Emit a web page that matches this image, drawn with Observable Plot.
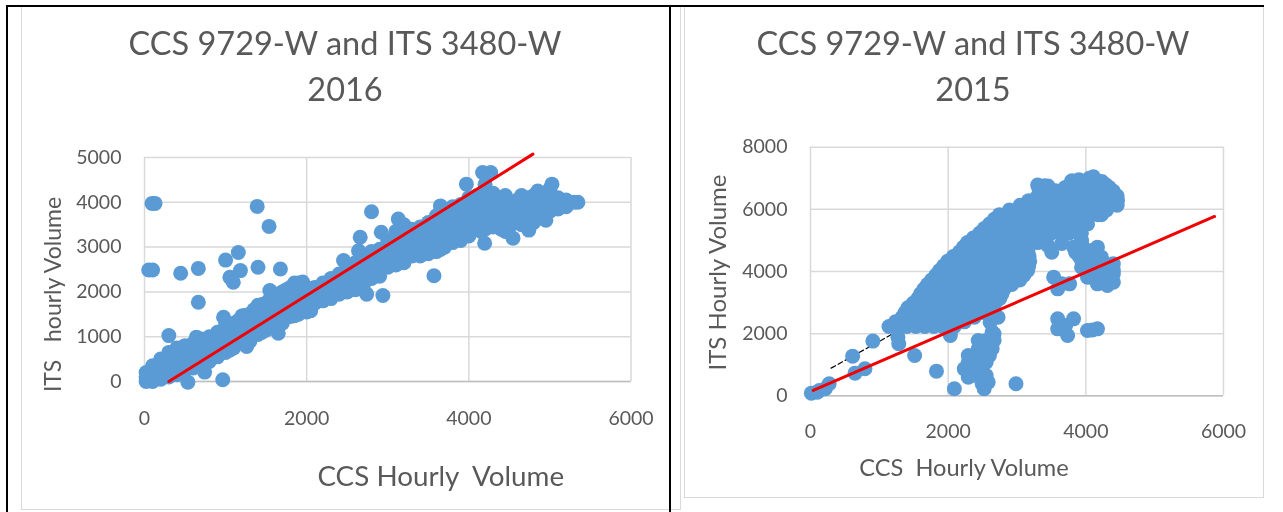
<!DOCTYPE html>
<html><head><meta charset="utf-8">
<script src="https://cdn.jsdelivr.net/npm/d3@7"></script>
<script src="https://cdn.jsdelivr.net/npm/@observablehq/plot@0.6"></script>
<style>
html,body{margin:0;background:#fff;}
#page{position:relative;width:1283px;height:512px;overflow:hidden;font-family:Lato,sans-serif;filter:blur(.45px);}
.box{position:absolute;box-sizing:border-box;}
.title{position:absolute;color:#595959;font-size:32.5px;line-height:46px;text-align:center;width:600px;white-space:pre;}
svg{position:absolute;top:0;}
</style></head><body>
<div id="page">
  <div class="box" style="left:21px;top:6px;width:660px;height:504px;border:1.5px solid #d9d9d9"></div>
  <div class="box" style="left:684px;top:6px;width:580px;height:492px;border:1.5px solid #d9d9d9"></div>
  <div class="box" style="left:6px;top:5px;width:1258px;height:2px;background:#000"></div>
  <div class="box" style="left:6px;top:5px;width:2px;height:507px;background:#000"></div>
  <div class="box" style="left:669px;top:5px;width:2px;height:507px;background:#000"></div>
  <div class="title" style="left:45px;top:20px">CCS 9729-W and ITS 3480-W
2016</div>
  <div class="title" style="left:673px;top:20px">CCS 9729-W and ITS 3480-W
2015</div>
</div>
<script>
// 2016 panel: for each CCS volume, the ITS volumes of the main band
const band2016 = [
 [20,[0,100,200]],[100,[0,100,250,350]],[200,[50,200,400,500]],[300,[100,300,500,650]],
 [400,[150,350,600,750]],[500,[250,450,650,800]],[600,[300,500,700,850]],[700,[350,550,750,950]],
 [800,[450,650,850,1000]],[900,[550,750,950,1100]],[1000,[650,850,1050,1250]],[1100,[750,950,1150,1300]],
 [1200,[900,1100,1300,1450]],[1300,[900,1100,1300,1500]],[1400,[1050,1250,1500,1700]],[1500,[1150,1350,1550,1750]],
 [1600,[1250,1450,1650,1900]],[1700,[1300,1500,1700,2000]],[1800,[1450,1650,1850,2100]],[1900,[1500,1700,1900,2200]],
 [2000,[1550,1750,1950,2100]],[2100,[1750,1900,2100]],[2200,[1800,1950,2100,2200]],[2300,[1850,2000,2150,2300]],
 [2400,[1950,2100,2250,2400]],[2500,[2000,2150,2350,2550]],[2600,[2050,2250,2450,2650]],[2700,[2150,2350,2550,2750]],
 [2800,[2300,2500,2700,2900]],[2900,[2350,2550,2750,2950]],[3000,[2550,2750,2950,3150]],[3100,[2600,2800,3000,3200,3350]],
 [3200,[2650,2850,3050,3250,3500]],[3300,[2800,3000,3200,3400]],[3400,[2800,3000,3250,3450]],[3500,[2850,3050,3300,3550]],
 [3600,[2900,3150,3400,3700]],[3700,[3000,3250,3500,3800]],[3800,[3100,3350,3600,3900]],[3900,[3150,3400,3700,3950]],
 [4000,[3250,3500,3800,4100]],[4100,[3400,3650,3900,4150]],[4200,[3400,3650,3900,4200,4400]],[4300,[3450,3700,3950,4200]],
 [4400,[3400,3650,3900,4100]],[4500,[3450,3700,3900]],[4600,[3550,3800,4050]],[4700,[3650,3900,4100]],
 [4800,[3550,3750,3950,4150]],[4900,[3650,3850,4100,4200]],[5000,[3800,4000,4200,4300]],[5100,[3850,4050,4100]],
 [5200,[3900,4050]],[5300,[4000]]
];
const edge2016 = [
 [1050,1280],[1150,1350],[1250,1480],[1350,1600],[1450,1720],[1550,1850],[1650,1950],[1750,2050],[1850,2200],[1950,2220],
 [1050,700],[1250,900],[1450,1100],[1650,1250],[1850,1470],[2050,1580],[3350,2850],[3650,2950],[4150,3350],[4450,3350],
 [4650,3500],[4950,3600],[4450,4150],[4650,4150],[4850,4250]
];
const outliers2016 = [
 [93,3975],[130,3975],[52,2490],[100,2490],[446,2415],[664,2525],[664,1770],[1000,2710],[1157,2880],[1183,2475],
 [1053,2325],[1095,2214],[1390,3908],[1536,3462],[1400,2550],[1676,2510],[535,-15],[965,40],[742,210],[1260,780],
 [300,1025],[640,990],[975,1435],[1210,1470],[1390,1660],[1546,2030],[1650,1077],[2455,2700],[2640,2920],[2740,1950],
 [2940,1920],[2660,3220],[2800,3790],[2920,3330],[3130,3625],[3570,2360],[3650,3920],[3970,4405],[4195,3085],
 [4170,4665],[4270,4665],[4545,3200],[4740,3380],[5025,4405],[5345,4000]
];
const trend2016 = [[300,0],[4790,5075]];

// 2015 panel: for each ITS volume, the CCS volumes of the main cloud
const cloud2015 = [
 [2230,[1140,1270,1400,1530,1660,1790,1920,2090]],
 [2530,[1330,1460,1590,1720,1850,1980,2110,2240,2380]],
 [2830,[1415,1545,1675,1805,1935,2065,2195,2325,2455,2610]],
 [3130,[1560,1690,1820,1950,2080,2210,2340,2470,2600,2750]],
 [3430,[1645,1775,1905,2035,2165,2295,2425,2555,2685,2810]],
 [3730,[1760,1890,2020,2150,2280,2410,2540,2670,2800,2930,3040]],
 [4030,[1875,2005,2135,2265,2395,2525,2655,2785,2915,3045,3155]],
 [4330,[1990,2120,2250,2380,2510,2640,2770,2900,3030,3185]],
 [4630,[2165,2295,2425,2555,2685,2815,2945,3075,3160]],
 [4930,[2280,2410,2540,2670,2800,2930,3060,3160,3300]],
 [5230,[2455,2585,2715,2845,2975,3105,3235,3365,3495,3625,3755,3885,3935]],
 [5530,[2600,2730,2860,2990,3120,3250,3380,3510,3640,3770,3900,4025]],
 [5830,[2745,2875,3005,3135,3265,3395,3525,3655,3785,3915,4045,4175,4225]],
 [6130,[3045,3175,3305,3435,3565,3695,3825,3955,4085,4215,4345,4455]],
 [6430,[3300,3430,3560,3690,3820,3950,4080,4210,4340,4455]],
 [6700,[3315,3445,3700,3830,3960,4090,4220,4340]],
 [6900,[3790,3920,4050,4180,4230]]
];
const scatter2015 = [
 [3505,4620],[3447,4840],[3533,3818],[3591,3442],[3764,3603],[3851,4622],[3938,4354],[4169,4783],[4053,4461],[4226,4461],
 [4400,4247],[4400,3925],[4082,3818],[4226,3710],[4313,3550],[3938,4890],[4082,4139],[4255,4139],[3591,2477],[3822,2477],
 [3591,2155],[3735,1940],[3707,2263],[4024,2102],[4169,2155],[4095,2120],[2725,2530],[2610,2370],[2639,2048],[2639,1512],
 [2437,1780],[2552,1780],[2292,1298],[2465,1298],[2234,868],[2350,990],[2494,922],[2292,600],[2552,493],[2523,225],
 [2985,386],[2090,225],[1830,794],[2032,1941],[1513,1298],[1282,1673],[1270,1887],[906,1760],[612,1276],[647,729],
 [791,869],[271,386],[214,225],[127,172],[98,118],[12,85],[2600,1300],[2480,1100],
 [2667,1995],[2667,1780],[2437,1512],[2292,1083],[2437,1083],[2552,1083],[2263,869],[2379,869],[2350,654],[2552,654],
 [2581,440],[2494,386],[2581,1290],
 [4082,4676],[4284,4247],[4284,3925],[4169,3603],[4024,3818],[3938,4139],[4400,3657],[3938,4997],[3822,4783],[4140,4000],
 [3649,3603],[3650,4900],[4400,4050],[3900,4500]
];
const edge2015 = [
 [1235,2380],[1375,2680],[1490,2980],[1600,3280],[1700,3580],[1820,3880],[1935,4180],[2075,4480],[2220,4780],[2365,5080],
 [2525,5380],[2670,5680],[2890,5980],[3170,6280],[2235,2380],[2495,2680],[2680,2980],[2780,3280],[2925,3580],[3100,3880],
 [3170,4180],[3175,4480],[3160,4780],[4460,6280],[4400,6580],[4285,6800],[4300,5980],[3380,6550],[3300,6780],[3400,6760],
 [3450,6750],[3800,6920],[3900,6950],[4050,7000],[4110,7050],[3560,6600],[3580,6500]
];
const trend2015 = [[40,172],[5870,5770]];
const dashed2015 = [[300,890],[1200,2000]];

const xTicks = [0,2000,4000,6000];
const yTicks2016 = [0,1000,2000,3000,4000,5000];
const yTicks2015 = [0,2000,4000,6000,8000];
const blue = "#5b9bd5", red = "#f00000", grid = "#d9d9d9", ink = "#595959";

const points2016 = band2016.flatMap(([x,ys]) => ys.map(y => [x,y])).concat(outliers2016, edge2016);
const points2015 = cloud2015.flatMap(([y,xs]) => xs.map(x => [x,y])).concat(scatter2015, edge2015);

function panel({width,margins,yMax,yTicks,points,trend,extra,xLabel,xDx,xDy,xSize,xPad,yLabel,yDx,yDy,ySize,left,r}){
  const svg = Plot.plot({
    width, height:512, ...margins,
    style:{background:"transparent",fontFamily:"Lato,sans-serif",color:ink,overflow:"visible"},
    x:{domain:[0,6000]}, y:{domain:[0,yMax]},
    marks:[
      Plot.gridX(xTicks,{stroke:grid,strokeOpacity:1,strokeWidth:1.5}),
      Plot.gridY(yTicks,{stroke:grid,strokeOpacity:1,strokeWidth:1.5}),
      Plot.ruleY([0],{stroke:"#bfbfbf",strokeWidth:1.5}),
      Plot.axisX(xTicks,{tickSize:0,tickPadding:xPad,label:null,fontSize:19.5,tickFormat:d=>String(d)}),
      Plot.axisY(yTicks,{tickSize:0,tickPadding:23,label:null,fontSize:19.5,tickFormat:d=>String(d)}),
      extra ? Plot.line(extra,{x:"0",y:"1",stroke:"#000",strokeWidth:1.2,strokeDasharray:"5,3"}) : null,
      Plot.dot(points,{x:"0",y:"1",r,fill:blue}),
      Plot.line(trend,{x:"0",y:"1",stroke:red,strokeWidth:3}),
      Plot.text([xLabel],{text:d=>d,frameAnchor:"bottom",dx:xDx,dy:xDy,fontSize:xSize,fill:ink}),
      Plot.text([yLabel],{text:d=>d,frameAnchor:"left",textAnchor:"middle",rotate:-90,dx:yDx,dy:yDy,fontSize:ySize,fill:ink})
    ]
  });
  svg.style.left = left+"px";
  document.getElementById("page").appendChild(svg);
}
panel({width:660,margins:{marginLeft:144,marginRight:29.5,marginTop:157,marginBottom:131},
  yMax:5000,yTicks:yTicks2016,points:points2016,trend:trend2016,r:7.5,
  xLabel:"CCS Hourly  Volume",xDx:53,xDy:104,xSize:27.8,xPad:30,yLabel:"ITS   hourly Volume",yDx:-91,yDy:25,ySize:23,left:0});
panel({width:623,margins:{marginLeft:150,marginRight:60,marginTop:146.7,marginBottom:116.7},
  yMax:8000,yTicks:yTicks2015,points:points2015,trend:trend2015,extra:dashed2015,r:7.5,
  xLabel:"CCS  Hourly Volume",xDx:-53,xDy:80,xSize:23.6,xPad:28,yLabel:"ITS Hourly Volume",yDx:-92,yDy:1,ySize:24,left:660});
</script>
</body></html>
